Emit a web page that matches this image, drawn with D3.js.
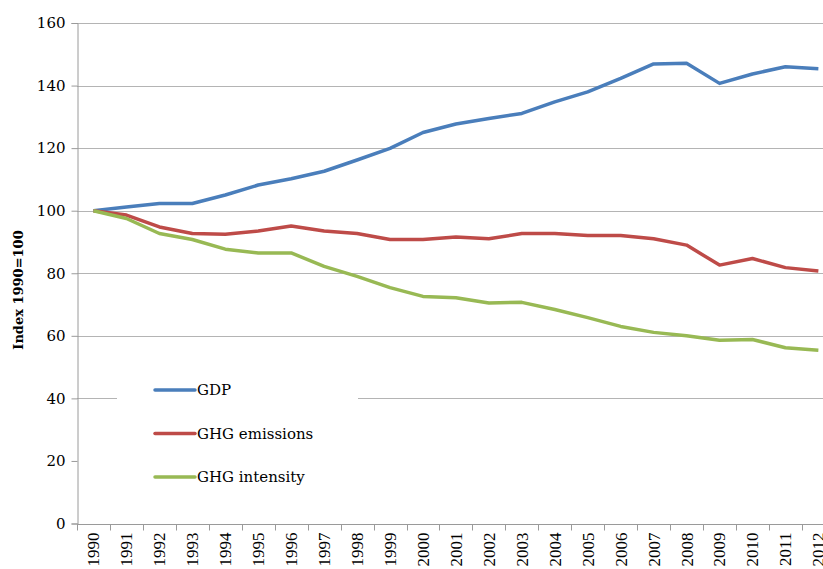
<!DOCTYPE html>
<html>
<head>
<meta charset="utf-8">
<script src="https://cdn.jsdelivr.net/npm/d3@7"></script>
<style>
  body { margin: 0; background: #fff; }
  svg { display: block; }
</style>
</head>
<body>
<div id="viz"></div>
<script>
// data
var years = ["1990","1991","1992","1993","1994","1995","1996","1997","1998","1999","2000","2001",
             "2002","2003","2004","2005","2006","2007","2008","2009","2010","2011","2012"];
var gdp = [100, 101.2, 102.3, 102.3, 105, 108.2, 110.2, 112.6, 116.2, 119.9, 125, 127.7,
           129.5, 131.1, 134.8, 138, 142.3, 146.9, 147.1, 140.7, 143.7, 146, 145.4];
var ghgEmissions = [100, 98.6, 94.8, 92.7, 92.5, 93.5, 95.1, 93.5, 92.7, 90.8, 90.8, 91.6,
                    91, 92.7, 92.7, 92.1, 92.1, 91, 89, 82.6, 84.7, 81.8, 80.7];
var ghgIntensity = [100, 97.5, 92.7, 90.8, 87.7, 86.5, 86.5, 82.2, 79, 75.4, 72.6, 72.2,
                    70.5, 70.7, 68.4, 65.8, 63, 61.1, 60, 58.6, 58.8, 56.2, 55.4];
var yTicks = [0, 20, 40, 60, 80, 100, 120, 140, 160];
var gridTicks = [40, 60, 80, 100, 120, 140, 160];

var series = [
  {name: "GDP", values: gdp, color: "#4a7ebb"},
  {name: "GHG emissions", values: ghgEmissions, color: "#be4b48"},
  {name: "GHG intensity", values: ghgIntensity, color: "#98b954"}
];

var width = 823, height = 569;
var plotLeft = 77, plotTop = 23, plotBottom = 523.5;
var step = 32.95;
var serif = "'DejaVu Serif', serif";

var svg = d3.select("#viz")
  .append("svg")
    .attr("width", width)
    .attr("height", height);

// scales (the plot runs past the right edge of the picture)
var x = d3.scaleBand()
  .domain(years)
  .range([plotLeft, plotLeft + step * years.length]);

var y = d3.scaleLinear()
  .domain([0, 160])
  .range([plotBottom, plotTop]);

// gridlines
svg.append("g")
  .selectAll("line")
  .data(gridTicks)
  .enter()
  .append("line")
    .attr("x1", plotLeft)
    .attr("x2", width)
    .attr("y1", function(d) { return Math.round(y(d)) + 0.5; })
    .attr("y2", function(d) { return Math.round(y(d)) + 0.5; })
    .style("stroke", "#b4b4b4")
    .style("stroke-width", 1);

// y axis
var yAxis = svg.append("g")
  .attr("transform", "translate(" + (plotLeft + 0.5) + ",0)")
  .call(d3.axisLeft(y).tickValues(yTicks).tickSize(6).tickPadding(6));
yAxis.select(".domain").style("stroke", "#9a9a9a");
yAxis.selectAll(".tick line").style("stroke", "#9a9a9a");
yAxis.selectAll(".tick text")
  .style("font-family", serif)
  .style("font-size", "15px")
  .style("fill", "#000");

// x axis: labels at band centres, ticks at band edges
var xAxis = svg.append("g")
  .attr("transform", "translate(0," + (Math.round(plotBottom) + 0.5) + ")")
  .call(d3.axisBottom(x).tickSize(0).tickPadding(0));
xAxis.select(".domain").remove();
xAxis.append("line")
  .attr("x1", plotLeft)
  .attr("x2", width)
  .style("stroke", "#9a9a9a");
xAxis.selectAll(".edge")
  .data(years)
  .enter()
  .append("line")
    .attr("class", "edge")
    .attr("x1", function(d) { return Math.round(x(d)) + 0.5; })
    .attr("x2", function(d) { return Math.round(x(d)) + 0.5; })
    .attr("y1", 0)
    .attr("y2", 6)
    .style("stroke", "#9a9a9a");
xAxis.selectAll(".tick text")
  .attr("transform", "rotate(-90)")
  .attr("x", -8)
  .attr("y", 0)
  .attr("dy", "0.35em")
  .style("text-anchor", "end")
  .style("font-family", "'Liberation Serif', serif")
  .style("font-size", "17px")
  .style("fill", "#000");

// y axis title
svg.append("text")
  .attr("transform", "translate(23,290) rotate(-90)")
  .style("text-anchor", "middle")
  .style("font-family", serif)
  .style("font-weight", "bold")
  .style("font-size", "13px")
  .text("Index 1990=100");

// lines
var line = d3.line()
  .x(function(d, i) { return x(years[i]) + x.bandwidth() / 2; })
  .y(function(d) { return y(d); });

svg.append("g")
  .selectAll("path")
  .data(series)
  .enter()
  .append("path")
    .attr("d", function(d) { return line(d.values); })
    .style("fill", "none")
    .style("stroke", function(d) { return d.color; })
    .style("stroke-width", 3.5)
    .style("stroke-linejoin", "round");

// legend, on a white box that hides the gridline behind it
var legend = svg.append("g");
legend.append("rect")
  .attr("x", 117)
  .attr("y", 374)
  .attr("width", 241)
  .attr("height", 122)
  .style("fill", "#fff");

var item = legend.selectAll(".item")
  .data(series)
  .enter()
  .append("g")
    .attr("class", "item")
    .attr("transform", function(d, i) { return "translate(155," + (390 + i * 43.5) + ")"; });

item.append("line")
  .attr("x1", 0)
  .attr("x2", 40)
  .style("stroke", function(d) { return d.color; })
  .style("stroke-width", 3.5)
  .style("stroke-linecap", "round");

item.append("text")
  .attr("x", 42)
  .attr("dy", "0.35em")
  .style("font-family", serif)
  .style("font-size", "15px")
  .text(function(d) { return d.name; });
</script>
</body>
</html>
